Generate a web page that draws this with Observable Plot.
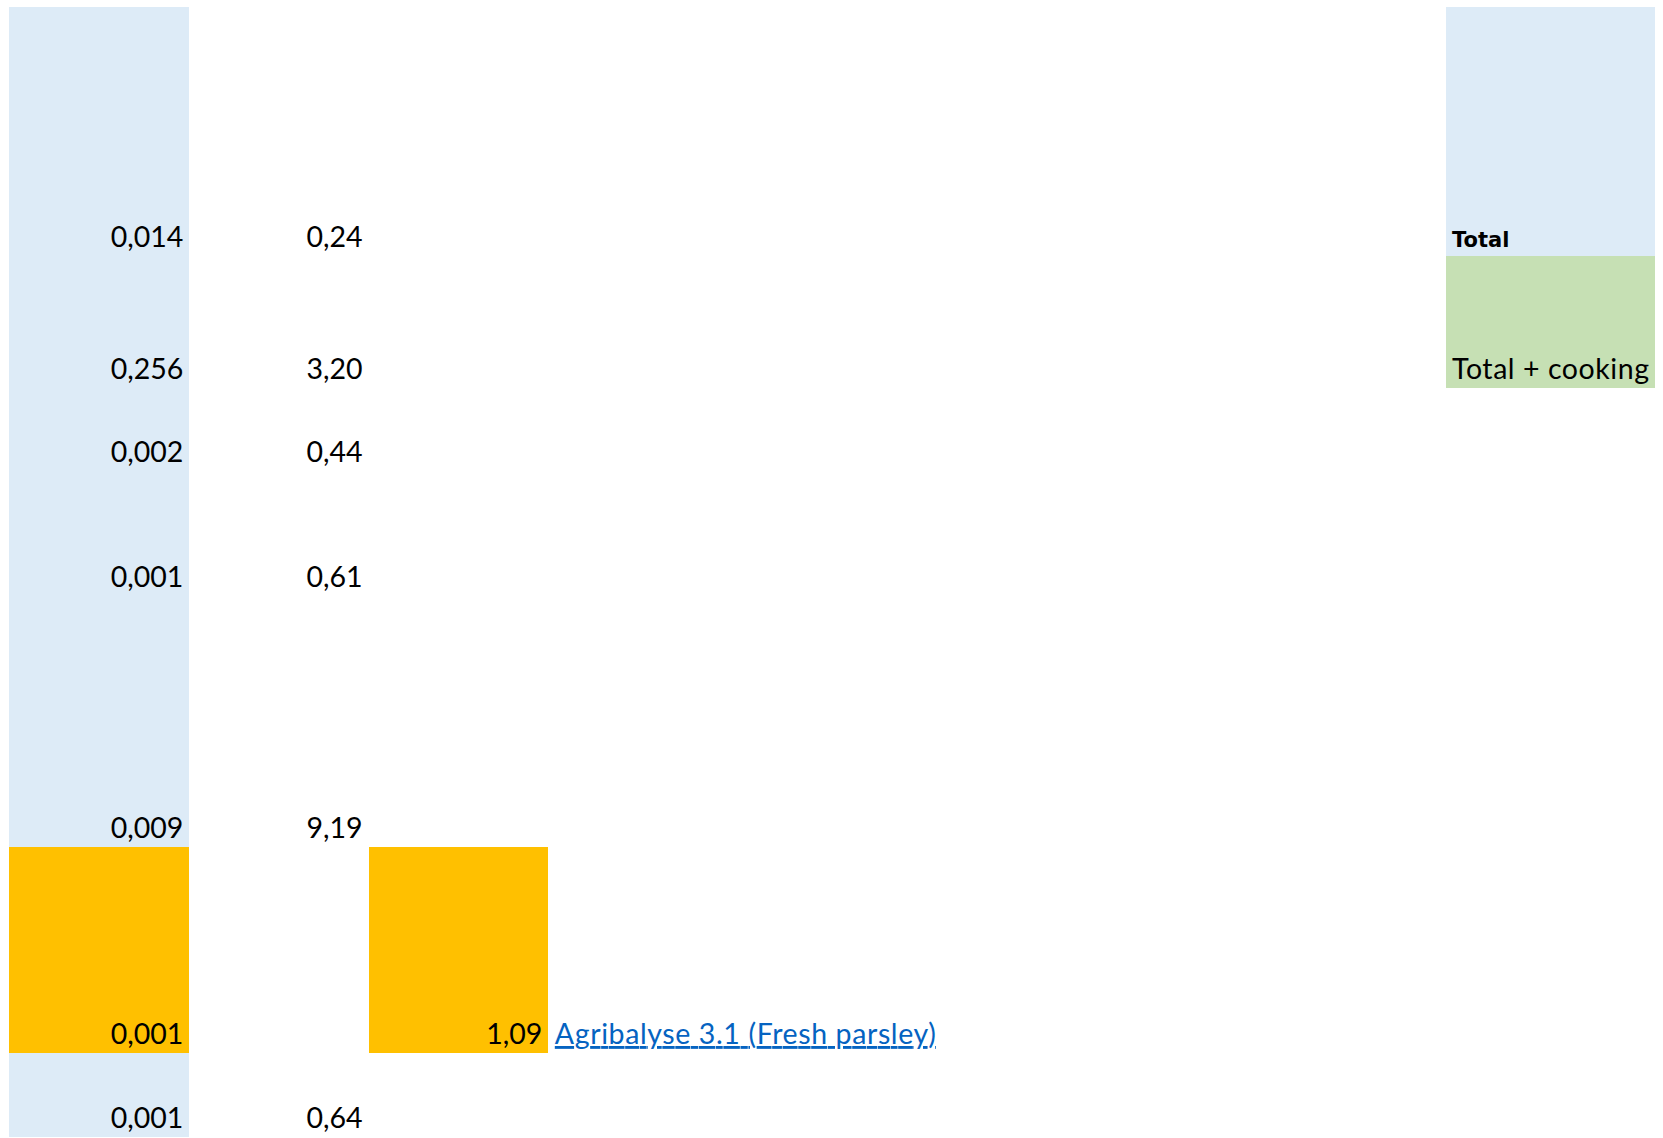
<!DOCTYPE html>
<html>
<head>
<meta charset="utf-8">
<script src="https://cdn.jsdelivr.net/npm/d3@7"></script>
<script src="https://cdn.jsdelivr.net/npm/@observablehq/plot@0.6"></script>
<style>
  html, body { margin: 0; padding: 0; background: #ffffff; }
  #chart svg { display: block; }
</style>
</head>
<body>
<div id="chart"></div>
<script>
// ---- data ----
const rowIds = [0, 1, 2, 3, 4, 5, 6];
const factorValues = [0.014, 0.256, 0.002, 0.001, 0.009, 0.001, 0.001];
const impactValues = [0.24, 3.20, 0.44, 0.61, 9.19, null, 0.64];
const replacedValues = [null, null, null, null, null, 1.09, null];
const sourceLabels = [null, null, null, null, null, "Agribalyse 3.1 (Fresh parsley)", null];
const totalLabels = ["Total", "Total + cooking"];
const highlightedRows = [5];

// ---- layout of the sheet grid (column / row edges, in px) ----
const colEdges = [9, 189.3, 368.5, 548.3, 728, 907.5, 1087, 1266.5, 1446, 1655];
const rowEdges = [7.3, 255.7, 388, 471, 595.5, 846.5, 1053, 1136.5];
const BLUE = "#DDEBF7", ORANGE = "#FFC000", GREEN = "#C6E0B4";
const FONT = "Lato, 'Open Sans', sans-serif";

const fmt3 = v => d3.format(".3f")(v).replace(".", ",");
const fmt2 = v => d3.format(".2f")(v).replace(".", ",");

// cell fills
const fills = [];
rowIds.forEach(r => fills.push({col: 0, row: r, fill: highlightedRows.includes(r) ? ORANGE : BLUE}));
rowIds.forEach(r => { if (replacedValues[r] != null) fills.push({col: 2, row: r, fill: ORANGE}); });
totalLabels.forEach((t, i) => fills.push({col: 8, row: i, fill: i === 0 ? BLUE : GREEN}));

// right-aligned numbers
const numbers = [];
rowIds.forEach(r => numbers.push({col: 0, row: r, text: fmt3(factorValues[r])}));
rowIds.forEach(r => { if (impactValues[r] != null) numbers.push({col: 1, row: r, text: fmt2(impactValues[r])}); });
rowIds.forEach(r => { if (replacedValues[r] != null) numbers.push({col: 2, row: r, text: fmt2(replacedValues[r])}); });

const links = rowIds.filter(r => sourceLabels[r] != null).map(r => ({col: 3, row: r, text: sourceLabels[r]}));
const totals = totalLabels.map((t, i) => ({col: 8, row: i, text: t, bold: i === 0}));

const chart = Plot.plot({
  width: 1663,
  height: 1138,
  margin: 0,
  x: {type: "linear", domain: colEdges.map((_, i) => i), range: colEdges, axis: null},
  y: {type: "linear", domain: rowEdges.map((_, i) => i), range: rowEdges, axis: null},
  marks: [
    Plot.rect(fills, {x1: "col", x2: d => d.col + 1, y1: "row", y2: d => d.row + 1, fill: "fill", shapeRendering: "crispEdges"}),
    Plot.text(numbers, {
      x: d => d.col + 1, y: d => d.row + 1, text: "text",
      textAnchor: "end", lineAnchor: "bottom", dx: -6.5, dy: -9.5,
      fontSize: 28.5, fontFamily: FONT, fill: "#000"
    }),
    Plot.text(links, {
      x: "col", y: d => d.row + 1, text: "text",
      textAnchor: "start", lineAnchor: "bottom", dx: 6, dy: -9.5,
      fontSize: 28.5, fontFamily: FONT, fill: "#0563C1"
    }),
    Plot.text(totals.filter(d => d.bold), {
      x: "col", y: d => d.row + 1, text: "text",
      textAnchor: "start", lineAnchor: "bottom", dx: 5.5, dy: -9.5,
      fontSize: 21, fontWeight: "bold", fontFamily: "'DejaVu Sans', Verdana, sans-serif", fill: "#000"
    }),
    Plot.text(totals.filter(d => !d.bold), {
      x: "col", y: d => d.row + 1, text: "text",
      textAnchor: "start", lineAnchor: "bottom", dx: 5.5, dy: -10,
      fontSize: 28.5, fontFamily: FONT, fill: "#000"
    })
  ]
});

// spreadsheet-like rendering tweaks: widen the link and long label to the sheet's text widths
d3.select(chart).selectAll("text")
  .filter(function() { return sourceLabels.includes(this.textContent); })
  .attr("text-decoration", "underline")
  .attr("textLength", 381)
  .attr("lengthAdjust", "spacing");
d3.select(chart).selectAll("text")
  .filter(function() { return this.textContent === totalLabels[1]; })
  .attr("textLength", 197)
  .attr("lengthAdjust", "spacing");

document.getElementById("chart").appendChild(chart);
</script>
</body>
</html>
